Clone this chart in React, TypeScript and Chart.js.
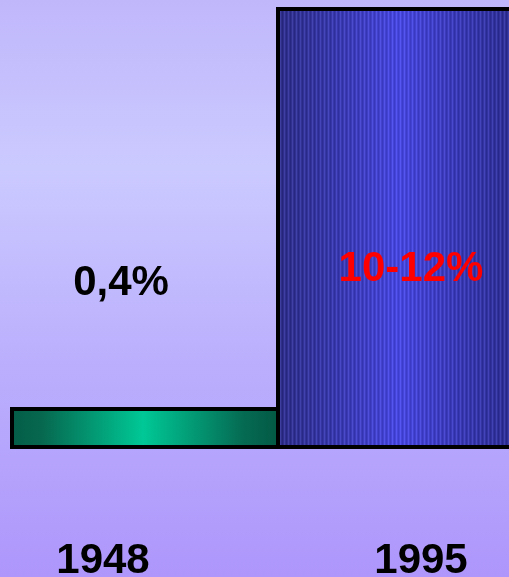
import { useEffect, useRef } from "react";
import { Chart, registerables } from "chart.js";

Chart.register(...registerables);

const categories = ["1948", "1995"];
const values = [0.4, 11];
const valueLabels = ["0,4%", "10-12%"];
const valueLabelColors = ["#000000", "#ff0000"];
const axisMin = -0.71;
const axisMax = 11;

const FONT = "bold 42px 'Liberation Sans', Arial, sans-serif";

function hex(c: string): number[] {
  const n = parseInt(c.slice(1), 16);
  return [(n >> 16) & 255, (n >> 8) & 255, n & 255];
}

function makeBluePattern(ctx: CanvasRenderingContext2D, x0: number, x1: number, width: number) {
  const off = document.createElement("canvas");
  off.width = Math.max(1, Math.ceil(width));
  off.height = 4;
  const octx = off.getContext("2d")!;
  const img = octx.createImageData(off.width, 4);
  const edgeL = hex("#2e2e88");
  const peak = hex("#4646dc");
  const edgeR = hex("#2a2a84");
  for (let x = 0; x < off.width; x++) {
    const t = (x - x0) / (x1 - x0);
    const pk = 0.46;
    let f: number;
    let edge: number[];
    if (t < pk) {
      f = Math.max(0, 1 - (pk - t) / pk);
      edge = edgeL;
    } else {
      f = Math.max(0, 1 - (t - pk) / (1 - pk));
      edge = edgeR;
    }
    f = Math.pow(f, 1.2);
    const m = x % 4;
    const s = m === 0 ? 20 : m === 2 ? -12 : 0;
    for (let y = 0; y < 4; y++) {
      const i = (y * off.width + x) * 4;
      for (let k = 0; k < 3; k++) {
        const v = edge[k] + (peak[k] - edge[k]) * f + s * (k === 2 ? 1.2 : 0.8);
        img.data[i + k] = Math.max(0, Math.min(255, Math.round(v)));
      }
      img.data[i + 3] = 255;
    }
  }
  octx.putImageData(img, 0, 0);
  return ctx.createPattern(off, "repeat");
}

const backgroundPlugin = {
  id: "bgGradient",
  beforeDraw(chart: any) {
    const { ctx, width, height } = chart;
    const g = ctx.createLinearGradient(0, 0, 0, height);
    g.addColorStop(0, "#c0b7fb");
    g.addColorStop(0.29, "#cbcaff");
    g.addColorStop(0.6, "#bcb1fd");
    g.addColorStop(1, "#ae96fb");
    ctx.save();
    ctx.fillStyle = g;
    ctx.fillRect(0, 0, width, height);
    ctx.restore();
  },
};

const labelsPlugin = {
  id: "textLabels",
  afterDraw(chart: any) {
    const { ctx } = chart;
    const meta = chart.getDatasetMeta(0);
    const valueShift = [-22, 2];
    const valueBaseline = [295, 281];
    const catShift = [-40, 12];
    ctx.save();
    ctx.font = FONT;
    ctx.textAlign = "center";
    ctx.textBaseline = "alphabetic";
    meta.data.forEach((bar: any, i: number) => {
      ctx.fillStyle = valueLabelColors[i];
      ctx.fillText(valueLabels[i], bar.x + valueShift[i], valueBaseline[i]);
      ctx.fillStyle = "#000000";
      ctx.fillText(categories[i], bar.x + catShift[i], chart.chartArea.bottom + 124);
    });
    ctx.restore();
  },
};

export default function App() {
  const ref = useRef<HTMLCanvasElement>(null);

  useEffect(() => {
    const canvas = ref.current!;
    let bluePattern: any = null;
    const chart = new Chart(canvas, {
      type: "bar",
      data: {
        labels: categories,
        datasets: [
          {
            data: values,
            base: axisMin,
            barPercentage: 1,
            categoryPercentage: 1,
            inflateAmount: 0,
            borderColor: "#000000",
            borderSkipped: false,
            borderWidth: (c: any) =>
              c.dataIndex === 0
                ? { top: 4, bottom: 4, left: 4, right: 0 }
                : { top: 4, bottom: 4, left: 4, right: 4 },
            backgroundColor: (c: any) => {
              const ch = c.chart;
              const area = ch.chartArea;
              if (!area) return c.dataIndex === 0 ? "#00a07a" : "#3a3ab0";
              const half = (area.right - area.left) / 2;
              if (c.dataIndex === 0) {
                const g = ch.ctx.createLinearGradient(area.left, 0, area.left + half, 0);
                g.addColorStop(0, "#045c47");
                g.addColorStop(0.12, "#06684f");
                g.addColorStop(0.5, "#00c896");
                g.addColorStop(0.88, "#056a52");
                g.addColorStop(1, "#035a45");
                return g;
              }
              if (!bluePattern) {
                bluePattern = makeBluePattern(ch.ctx, area.left + half, area.right, ch.width);
              }
              return bluePattern;
            },
          } as any,
        ],
      },
      options: {
        animation: false,
        responsive: false,
        layout: { padding: { top: 7, bottom: 128, left: 10, right: 0 } },
        plugins: { legend: { display: false }, tooltip: { enabled: false } },
        scales: {
          x: { display: false },
          y: { display: false, min: axisMin, max: axisMax },
        },
      },
      plugins: [backgroundPlugin, labelsPlugin],
    });
    return () => chart.destroy();
  }, []);

  return (
    <div
      style={{
        position: "absolute",
        left: 0,
        top: 0,
        width: 509,
        height: 577,
        overflow: "hidden",
      }}
    >
      <canvas ref={ref} width={542} height={577} style={{ display: "block" }} />
    </div>
  );
}
